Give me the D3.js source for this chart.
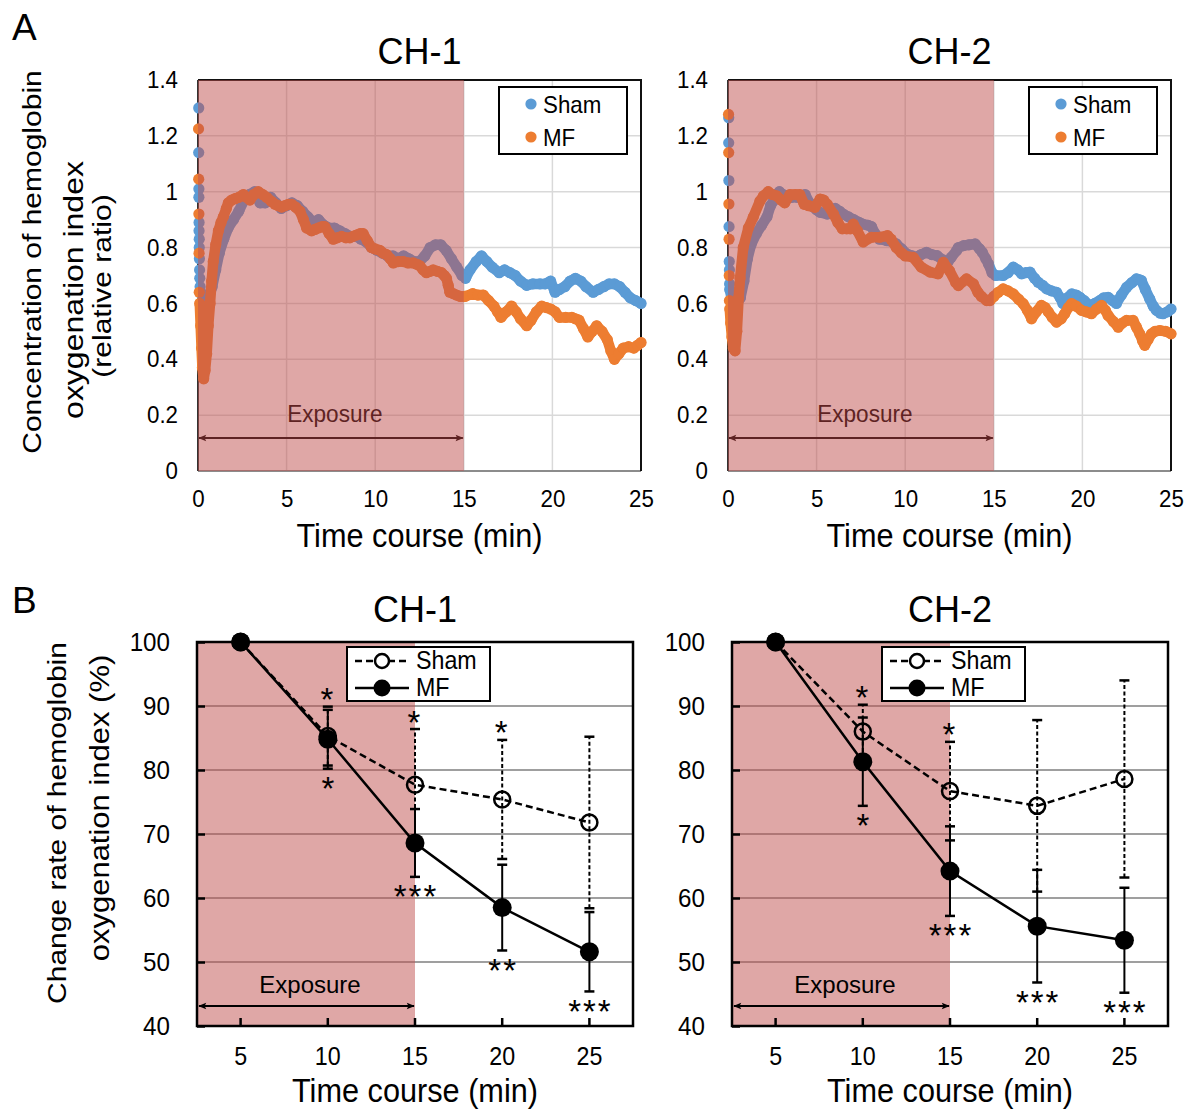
<!DOCTYPE html>
<html>
<head>
<meta charset="utf-8">
<script src="https://cdn.jsdelivr.net/npm/d3@7"></script>
<style>
  body { margin: 0; background: #fff; }
  svg { display: block; }
  text { font-family: "Liberation Sans", Arial, sans-serif; }
</style>
</head>
<body>
<svg id="fig" width="1202" height="1114"></svg>
<script>
// ---- panel A : time course, relative ratio ----
const aTimeTicks = [0, 5, 10, 15, 20, 25];
const aValueTicks = [0, 0.2, 0.4, 0.6, 0.8, 1, 1.2, 1.4];

// first samples right at t=0 (scattered dots)
const ch1ShamStart = [[0.04, 1.30], [0.04, 1.14], [0.05, 1.01], [0.05, 0.98], [0.06, 0.89], [0.06, 0.86], [0.07, 0.83], [0.07, 0.80], [0.08, 0.76], [0.09, 0.72], [0.1, 0.69], [0.12, 0.66]];
const ch1MfStart = [[0.03, 1.225], [0.04, 1.045], [0.05, 0.92], [0.06, 0.78], [0.07, 0.64]];
const ch2ShamStart = [[0.04, 1.265], [0.04, 1.175], [0.05, 1.04], [0.06, 0.875], [0.07, 0.75], [0.08, 0.72], [0.09, 0.67]];
const ch2MfStart = [[0.03, 1.277], [0.04, 1.14], [0.05, 0.956], [0.06, 0.83], [0.07, 0.70], [0.08, 0.61]];

// [minute, ratio]
const ch1ShamTrace = [[0.15, 0.64], [0.3, 0.61], [0.45, 0.60], [0.6, 0.62], [0.8, 0.66], [1.0, 0.72], [1.2, 0.78], [1.45, 0.83], [1.7, 0.87], [2.0, 0.90], [2.3, 0.93], [2.6, 0.97], [2.9, 0.99], [3.2, 1.0], [3.5, 0.96], [3.8, 0.96], [4.1, 0.98], [4.4, 0.96], [4.7, 0.94], [5.0, 0.95], [5.3, 0.96], [5.6, 0.95], [5.9, 0.93], [6.2, 0.91], [6.5, 0.89], [6.8, 0.90], [7.1, 0.88], [7.4, 0.87], [7.7, 0.87], [8.0, 0.86], [8.3, 0.85], [8.6, 0.84], [8.9, 0.84], [9.2, 0.83], [9.5, 0.82], [9.8, 0.80], [10.1, 0.79], [10.4, 0.78], [10.7, 0.77], [11.0, 0.77], [11.3, 0.76], [11.6, 0.77], [11.9, 0.76], [12.2, 0.75], [12.5, 0.75], [12.8, 0.77], [13.1, 0.80], [13.4, 0.81], [13.7, 0.81], [14.0, 0.79], [14.3, 0.76], [14.6, 0.73], [14.9, 0.70], [15.1, 0.69], [15.35, 0.72], [15.7, 0.75], [16.0, 0.77], [16.3, 0.75], [16.6, 0.73], [17.0, 0.71], [17.3, 0.72], [17.6, 0.71], [17.9, 0.70], [18.2, 0.68], [18.55, 0.665], [18.9, 0.67], [19.3, 0.67], [19.6, 0.67], [19.9, 0.68], [20.15, 0.64], [20.4, 0.65], [20.7, 0.66], [21.0, 0.68], [21.3, 0.69], [21.6, 0.68], [21.9, 0.66], [22.3, 0.64], [22.6, 0.65], [22.9, 0.66], [23.2, 0.67], [23.5, 0.67], [23.8, 0.66], [24.1, 0.64], [24.4, 0.62], [24.7, 0.61], [25.0, 0.60]];
const ch1MfTrace = [[0.1, 0.60], [0.15, 0.52], [0.2, 0.44], [0.25, 0.37], [0.32, 0.33], [0.4, 0.36], [0.49, 0.42], [0.58, 0.52], [0.68, 0.60], [0.77, 0.68], [0.86, 0.75], [1.0, 0.81], [1.15, 0.86], [1.3, 0.89], [1.43, 0.91], [1.6, 0.94], [1.71, 0.96], [1.9, 0.97], [2.09, 0.975], [2.3, 0.98], [2.56, 0.99], [2.75, 0.98], [2.93, 0.97], [3.15, 0.99], [3.4, 1.0], [3.65, 0.99], [3.87, 0.98], [4.15, 0.965], [4.35, 0.955], [4.53, 0.95], [4.72, 0.945], [4.91, 0.95], [5.1, 0.955], [5.28, 0.955], [5.5, 0.945], [5.75, 0.93], [5.95, 0.90], [6.13, 0.87], [6.41, 0.86], [6.6, 0.865], [6.79, 0.87], [7.0, 0.875], [7.16, 0.875], [7.4, 0.85], [7.63, 0.83], [7.85, 0.835], [8.1, 0.84], [8.35, 0.835], [8.57, 0.835], [8.75, 0.84], [8.95, 0.845], [9.15, 0.85], [9.32, 0.85], [9.55, 0.825], [9.79, 0.80], [10.0, 0.795], [10.26, 0.79], [10.45, 0.78], [10.64, 0.775], [10.85, 0.76], [11.02, 0.745], [11.3, 0.75], [11.58, 0.75], [11.85, 0.745], [12.14, 0.745], [12.35, 0.74], [12.52, 0.735], [12.7, 0.72], [12.89, 0.71], [13.1, 0.715], [13.27, 0.72], [13.5, 0.715], [13.74, 0.71], [13.9, 0.70], [14.02, 0.69], [14.12, 0.665], [14.21, 0.64], [14.4, 0.635], [14.59, 0.63], [14.8, 0.625], [15.06, 0.625], [15.5, 0.635], [15.8, 0.63], [16.1, 0.63], [16.4, 0.61], [16.7, 0.59], [16.9, 0.57], [17.1, 0.55], [17.4, 0.57], [17.7, 0.59], [17.95, 0.57], [18.2, 0.545], [18.55, 0.52], [18.8, 0.54], [19.1, 0.57], [19.4, 0.59], [19.65, 0.585], [19.9, 0.58], [20.15, 0.57], [20.4, 0.55], [20.75, 0.55], [21.1, 0.55], [21.3, 0.545], [21.5, 0.54], [21.75, 0.51], [22.0, 0.48], [22.25, 0.50], [22.5, 0.52], [22.8, 0.50], [23.1, 0.47], [23.3, 0.43], [23.5, 0.40], [23.75, 0.42], [24.0, 0.44], [24.3, 0.445], [24.6, 0.44], [24.8, 0.45], [25.0, 0.46]];
const ch2ShamTrace = [[0.1, 0.65], [0.2, 0.62], [0.35, 0.60], [0.5, 0.60], [0.7, 0.62], [0.9, 0.68], [1.1, 0.76], [1.3, 0.81], [1.6, 0.85], [1.9, 0.88], [2.2, 0.91], [2.4, 0.95], [2.6, 0.97], [2.75, 0.99], [2.9, 1.0], [3.1, 0.99], [3.3, 0.985], [3.6, 0.98], [3.9, 0.98], [4.1, 0.985], [4.35, 0.99], [4.6, 0.96], [4.7, 0.95], [5.0, 0.935], [5.2, 0.926], [5.6, 0.92], [5.8, 0.935], [6.05, 0.94], [6.3, 0.93], [6.5, 0.92], [6.8, 0.91], [7.1, 0.90], [7.4, 0.89], [7.6, 0.884], [7.9, 0.88], [8.1, 0.875], [8.3, 0.85], [8.55, 0.83], [8.95, 0.825], [9.3, 0.82], [9.5, 0.813], [9.8, 0.795], [10.1, 0.777], [10.4, 0.77], [10.65, 0.765], [10.9, 0.775], [11.2, 0.783], [11.5, 0.775], [11.8, 0.771], [12.15, 0.755], [12.4, 0.747], [12.6, 0.765], [12.9, 0.789], [13.0, 0.80], [13.3, 0.807], [13.6, 0.81], [13.95, 0.813], [14.2, 0.795], [14.35, 0.783], [14.55, 0.76], [14.7, 0.741], [14.9, 0.71], [15.1, 0.70], [15.53, 0.70], [15.8, 0.71], [16.1, 0.73], [16.35, 0.72], [16.57, 0.706], [16.8, 0.71], [17.04, 0.712], [17.3, 0.69], [17.5, 0.676], [17.75, 0.665], [17.98, 0.652], [18.25, 0.645], [18.54, 0.64], [18.75, 0.62], [18.9, 0.60], [19.15, 0.62], [19.4, 0.634], [19.65, 0.63], [19.85, 0.622], [20.1, 0.61], [20.4, 0.593], [20.7, 0.60], [20.98, 0.61], [21.2, 0.62], [21.45, 0.622], [21.7, 0.61], [21.92, 0.60], [22.2, 0.63], [22.5, 0.658], [22.8, 0.675], [23.05, 0.688], [23.2, 0.685], [23.33, 0.682], [23.55, 0.65], [23.8, 0.616], [24.0, 0.59], [24.18, 0.575], [24.4, 0.565], [24.55, 0.563], [24.8, 0.57], [25.0, 0.58]];
const ch2MfTrace = [[0.1, 0.58], [0.15, 0.53], [0.22, 0.48], [0.3, 0.44], [0.4, 0.43], [0.5, 0.50], [0.6, 0.62], [0.68, 0.69], [0.86, 0.80], [1.15, 0.87], [1.43, 0.91], [1.8, 0.966], [2.0, 0.985], [2.27, 1.0], [2.5, 0.99], [2.75, 0.985], [3.0, 0.97], [3.2, 0.96], [3.5, 0.99], [3.8, 0.99], [4.05, 0.99], [4.3, 0.955], [4.55, 0.95], [4.9, 0.944], [5.2, 0.974], [5.4, 0.97], [5.6, 0.955], [5.95, 0.92], [6.2, 0.89], [6.45, 0.867], [6.7, 0.867], [6.9, 0.867], [7.07, 0.884], [7.3, 0.86], [7.63, 0.82], [8.1, 0.837], [8.57, 0.837], [9.0, 0.843], [9.2, 0.83], [9.5, 0.80], [9.8, 0.78], [10.0, 0.77], [10.45, 0.765], [10.9, 0.73], [11.4, 0.712], [11.85, 0.706], [12.15, 0.747], [12.5, 0.717], [12.85, 0.675], [13.0, 0.664], [13.46, 0.688], [13.85, 0.67], [14.1, 0.64], [14.3, 0.625], [14.6, 0.61], [14.78, 0.61], [15.0, 0.625], [15.25, 0.64], [15.53, 0.652], [15.8, 0.645], [16.1, 0.634], [16.4, 0.615], [16.66, 0.599], [16.9, 0.575], [17.13, 0.545], [17.4, 0.57], [17.69, 0.593], [17.9, 0.585], [18.07, 0.57], [18.3, 0.55], [18.54, 0.533], [18.8, 0.545], [19.0, 0.563], [19.2, 0.585], [19.39, 0.599], [19.65, 0.59], [19.95, 0.575], [20.2, 0.57], [20.51, 0.563], [20.8, 0.58], [21.08, 0.593], [21.3, 0.575], [21.45, 0.557], [21.75, 0.535], [22.02, 0.515], [22.25, 0.53], [22.49, 0.539], [22.86, 0.539], [23.05, 0.515], [23.24, 0.491], [23.4, 0.465], [23.52, 0.45], [23.7, 0.47], [23.9, 0.491], [24.1, 0.50], [24.37, 0.503], [24.7, 0.50], [25.0, 0.491]];

// ---- panel B : change rate (%), mean and error ----
const categories = [5, 10, 15, 20, 25];
const bValueTicks = [40, 50, 60, 70, 80, 90, 100];
const ch1ShamMean = [100, 85.3, 77.7, 75.4, 71.8];
const ch1ShamErr = [0, 4.6, 8.7, 9.3, 13.4];
const ch1MfMean = [100, 84.8, 68.6, 58.5, 51.6];
const ch1MfErr = [0, 4.6, 5.3, 6.7, 6.2];
const ch1ShamStars = ["", "*", "*", "*", ""];
const ch1MfStars = ["", "*", "***", "**", "***"];
const ch2ShamMean = [100, 86.0, 76.7, 74.4, 78.6];
const ch2ShamErr = [0, 4.2, 7.7, 13.4, 15.4];
const ch2MfMean = [100, 81.3, 64.2, 55.6, 53.4];
const ch2MfErr = [0, 6.9, 7.0, 8.8, 8.2];
const ch2ShamStars = ["", "*", "*", "", ""];
const ch2MfStars = ["", "*", "***", "***", "***"];

const SHAM_BLUE = "#5b9bd5";
const MF_ORANGE = "#ed7d31";
const EXPO_RED = "#c0504d";
const EXPO_END = 15;
const SX = 0.93; // the lettering in the original is a little squeezed sideways

const svg = d3.select("#fig");

// arrow heads
const defs = svg.append("defs");
[["arrA", "#5e2323"], ["arrB", "#000"]].forEach(([id, col]) => {
  defs.append("marker")
    .attr("id", id)
    .attr("viewBox", "0 0 10 10")
    .attr("refX", 9).attr("refY", 5)
    .attr("markerWidth", 9).attr("markerHeight", 8)
    .attr("markerUnits", "userSpaceOnUse")
    .attr("orient", "auto-start-reverse")
    .append("path")
    .attr("d", "M0,1 L10,5 L0,9 L2,5 z")
    .attr("fill", col);
});

function sqText(parent, x, y, str, size, anchor, fill, sx) {
  return parent.append("text")
    .attr("transform", "translate(" + x + "," + y + ") scale(" + (sx || SX) + ",1)")
    .attr("text-anchor", anchor || "middle")
    .attr("font-size", size)
    .attr("fill", fill || "#000")
    .text(str);
}

function yLabel(lines) {
  // lines: [text, baseline x, centre y, font size]
  lines.forEach(([str, bx, cy, size]) => {
    svg.append("text")
      .attr("transform", "translate(" + bx + "," + cy + ") scale(0.88,1) rotate(-90)")
      .attr("text-anchor", "middle")
      .attr("font-size", size)
      .text(str);
  });
}

function drawPanelA(cfg) {
  const top = 80, bottom = 471;
  const x = d3.scaleLinear().domain([0, 25]).range([cfg.left, cfg.right]);
  const y = d3.scaleLinear().domain([0, 1.4]).range([bottom, top]);
  const g = svg.append("g");

  // grid
  g.selectAll(".hgrid").data(aValueTicks.slice(1, -1)).join("line")
    .attr("x1", cfg.left).attr("x2", cfg.right)
    .attr("y1", d => y(d)).attr("y2", d => y(d))
    .attr("stroke", "#d9d9d9").attr("stroke-width", 1.5);
  g.selectAll(".vgrid").data(aTimeTicks.slice(1, -1)).join("line")
    .attr("x1", d => x(d)).attr("x2", d => x(d))
    .attr("y1", top).attr("y2", bottom)
    .attr("stroke", "#d9d9d9").attr("stroke-width", 1.5);

  // frame
  g.append("line").attr("x1", cfg.left).attr("x2", cfg.right).attr("y1", bottom).attr("y2", bottom)
    .attr("stroke", "#8c8c8c").attr("stroke-width", 2);
  g.append("line").attr("x1", cfg.left).attr("x2", cfg.left).attr("y1", top).attr("y2", bottom)
    .attr("stroke", "#333").attr("stroke-width", 2);
  g.append("path")
    .attr("d", "M" + cfg.left + "," + top + "H" + cfg.right + "V" + bottom)
    .attr("fill", "none").attr("stroke", "#111").attr("stroke-width", 2);

  // series: thick trace of overlapping dots
  const line = d3.line().x(d => x(d[0])).y(d => y(d[1]));
  [[cfg.shamStart, cfg.sham, SHAM_BLUE], [cfg.mfStart, cfg.mf, MF_ORANGE]].forEach(([start, trace, col]) => {
    const s = g.append("g");
    s.append("path").datum(trace)
      .attr("d", line)
      .attr("fill", "none").attr("stroke", col)
      .attr("stroke-width", 10.5).attr("stroke-linejoin", "round").attr("stroke-linecap", "round");
    s.selectAll("circle.tr").data(trace).join("circle")
      .attr("cx", d => x(d[0])).attr("cy", d => y(d[1])).attr("r", 5.6).attr("fill", col);
    s.selectAll("circle.st").data(start).join("circle")
      .attr("cx", d => x(d[0])).attr("cy", d => y(d[1])).attr("r", 5.6).attr("fill", col);
  });

  // exposure period
  g.append("rect")
    .attr("x", x(0)).attr("y", top)
    .attr("width", x(EXPO_END) - x(0)).attr("height", bottom - top)
    .attr("fill", EXPO_RED).attr("opacity", 0.5);
  g.append("line")
    .attr("x1", x(0) + 1).attr("x2", x(EXPO_END) - 1)
    .attr("y1", bottom - 33).attr("y2", bottom - 33)
    .attr("stroke", "#5e2323").attr("stroke-width", 2)
    .attr("marker-start", "url(#arrA)").attr("marker-end", "url(#arrA)");
  sqText(g, (x(0) + x(EXPO_END)) / 2 + 4, bottom - 49, "Exposure", 23, "middle", "#5e2323", 0.98);

  // axes labels
  const yAxis = g.append("g").attr("transform", "translate(" + cfg.left + ",0)")
    .call(d3.axisLeft(y).tickValues(aValueTicks).tickSize(0).tickFormat(d3.format("~g")));
  yAxis.select(".domain").remove();
  yAxis.selectAll("text")
    .attr("font-size", 24).attr("font-family", null)
    .attr("x", -20 / SX).attr("transform", "scale(" + SX + ",1)");
  const xAxis = g.append("g").attr("transform", "translate(0," + bottom + ")")
    .call(d3.axisBottom(x).tickValues(aTimeTicks).tickSize(0).tickPadding(19));
  xAxis.select(".domain").remove();
  xAxis.selectAll("text")
    .attr("font-size", 24).attr("font-family", null)
    .attr("transform", "scale(" + SX + ",1)");

  // legend
  const lw = 128, lh = 67;
  const lx = cfg.right - 14 - lw, ly = top + 7;
  const lg = g.append("g").attr("transform", "translate(" + lx + "," + ly + ")");
  lg.append("rect").attr("width", lw).attr("height", lh)
    .attr("fill", "#fff").attr("stroke", "#000").attr("stroke-width", 2);
  [["Sham", SHAM_BLUE, 17], ["MF", MF_ORANGE, 50]].forEach(([name, col, cy]) => {
    lg.append("circle").attr("cx", 32).attr("cy", cy).attr("r", 5.6).attr("fill", col);
    sqText(lg, 44, cy + 8.5, name, 24, "start");
  });

  // titles
  sqText(svg, (cfg.left + cfg.right) / 2, 64, cfg.title, 36, "middle", "#000", 1);
  sqText(svg, (cfg.left + cfg.right) / 2, 547, "Time course (min)", 33);
}

function drawPanelB(cfg) {
  const top = 642, bottom = 1026;
  const x = d3.scaleBand().domain(categories).range([cfg.left, cfg.right]);
  const cx = d => x(d) + x.bandwidth() / 2;
  const y = d3.scaleLinear().domain([40, 100]).range([bottom, top]);
  const g = svg.append("g");

  g.selectAll(".hgrid").data(bValueTicks.slice(1, -1)).join("line")
    .attr("x1", cfg.left).attr("x2", cfg.right)
    .attr("y1", d => y(d)).attr("y2", d => y(d))
    .attr("stroke", "#404040").attr("stroke-width", 1.2);

  g.append("rect")
    .attr("x", cfg.left).attr("y", top)
    .attr("width", cx(EXPO_END) - cfg.left).attr("height", bottom - top)
    .attr("fill", EXPO_RED).attr("opacity", 0.5);

  const rows = categories.map((c, i) => ({
    c: c,
    sm: cfg.shamMean[i], se: cfg.shamErr[i],
    mm: cfg.mfMean[i], me: cfg.mfErr[i],
    ss: cfg.shamStars[i], ms: cfg.mfStars[i]
  }));

  // error bars
  function errBars(key, errKey, dash) {
    const eb = g.append("g").attr("stroke", "#000").attr("stroke-width", 2);
    const withErr = rows.filter(r => r[errKey] > 0);
    eb.selectAll("line.v").data(withErr).join("line")
      .attr("x1", r => cx(r.c)).attr("x2", r => cx(r.c))
      .attr("y1", r => y(r[key] - r[errKey])).attr("y2", r => y(r[key] + r[errKey]))
      .attr("stroke-dasharray", dash);
    [-1, 1].forEach(sgn => {
      eb.selectAll("line.cap" + (sgn > 0 ? "u" : "d")).data(withErr).join("line")
        .attr("x1", r => cx(r.c) - 5).attr("x2", r => cx(r.c) + 5)
        .attr("y1", r => y(r[key] + sgn * r[errKey])).attr("y2", r => y(r[key] + sgn * r[errKey]))
        .attr("stroke-width", 2.5);
    });
  }
  errBars("sm", "se", "4,2.5");
  errBars("mm", "me", null);

  const shamLine = d3.line().x(r => cx(r.c)).y(r => y(r.sm));
  const mfLine = d3.line().x(r => cx(r.c)).y(r => y(r.mm));
  g.append("path").datum(rows).attr("d", shamLine)
    .attr("fill", "none").attr("stroke", "#000").attr("stroke-width", 2.5).attr("stroke-dasharray", "7,4");
  g.selectAll("circle.sham").data(rows).join("circle")
    .attr("cx", r => cx(r.c)).attr("cy", r => y(r.sm)).attr("r", 8)
    .attr("fill", "none").attr("stroke", "#000").attr("stroke-width", 2.5);
  g.append("path").datum(rows).attr("d", mfLine)
    .attr("fill", "none").attr("stroke", "#000").attr("stroke-width", 2.5);
  g.selectAll("circle.mf").data(rows).join("circle")
    .attr("cx", r => cx(r.c)).attr("cy", r => y(r.mm)).attr("r", 9.5).attr("fill", "#000");

  // significance marks
  const starSize = 33;
  g.selectAll("text.up").data(rows.filter(r => r.ss)).join("text")
    .attr("x", r => cx(r.c)).attr("y", r => Math.min(y(r.sm + r.se), y(r.mm + r.me)) - 14 + 0.56 * starSize)
    .attr("text-anchor", "middle").attr("font-size", starSize).attr("letter-spacing", 2)
    .text(r => r.ss);
  g.selectAll("text.down").data(rows.filter(r => r.ms)).join("text")
    .attr("x", r => cx(r.c) + 1).attr("y", r => Math.max(y(r.sm - r.se), y(r.mm - r.me)) + 13 + 0.56 * starSize)
    .attr("text-anchor", "middle").attr("font-size", starSize).attr("letter-spacing", 2)
    .text(r => r.ms);

  // frame + axes
  g.append("rect").attr("x", cfg.left).attr("y", top)
    .attr("width", cfg.right - cfg.left).attr("height", bottom - top)
    .attr("fill", "none").attr("stroke", "#000").attr("stroke-width", 2.5);
  const yAxis = g.append("g").attr("transform", "translate(" + cfg.left + ",0)")
    .call(d3.axisLeft(y).tickValues(bValueTicks).tickSizeInner(-8).tickSizeOuter(0));
  yAxis.select(".domain").remove();
  yAxis.selectAll("line").attr("stroke-width", 2.5);
  yAxis.selectAll("text")
    .attr("font-size", 26).attr("font-family", null)
    .attr("x", -27 / SX).attr("transform", "scale(" + SX + ",1)");
  const xAxis = g.append("g").attr("transform", "translate(0," + bottom + ")")
    .call(d3.axisBottom(x).tickSizeInner(-8).tickSizeOuter(0).tickPadding(21));
  xAxis.select(".domain").remove();
  xAxis.selectAll("line").attr("stroke-width", 2.5);
  xAxis.selectAll("text")
    .attr("font-size", 25).attr("font-family", null)
    .attr("transform", "scale(" + SX + ",1)");

  // exposure arrow
  g.append("line")
    .attr("x1", cfg.left + 2).attr("x2", cx(EXPO_END) - 1)
    .attr("y1", bottom - 20).attr("y2", bottom - 20)
    .attr("stroke", "#000").attr("stroke-width", 2)
    .attr("marker-start", "url(#arrB)").attr("marker-end", "url(#arrB)");
  sqText(g, (cfg.left + cx(EXPO_END)) / 2 + 4, bottom - 33, "Exposure", 24, "middle", "#000", 1);

  // legend
  const lw = 143, lh = 54;
  const lg = g.append("g").attr("transform", "translate(" + (cfg.left + 150) + "," + (top + 5) + ")");
  lg.append("rect").attr("width", lw).attr("height", lh)
    .attr("fill", "#fff").attr("stroke", "#000").attr("stroke-width", 2);
  lg.append("line").attr("x1", 8).attr("x2", 62).attr("y1", 14).attr("y2", 14)
    .attr("stroke", "#000").attr("stroke-width", 2.5).attr("stroke-dasharray", "7,4");
  lg.append("circle").attr("cx", 35).attr("cy", 14).attr("r", 7)
    .attr("fill", "#fff").attr("stroke", "#000").attr("stroke-width", 2.5);
  lg.append("line").attr("x1", 8).attr("x2", 62).attr("y1", 41).attr("y2", 41)
    .attr("stroke", "#000").attr("stroke-width", 2.5);
  lg.append("circle").attr("cx", 35).attr("cy", 41).attr("r", 8.5).attr("fill", "#000");
  sqText(lg, 69, 22, "Sham", 25, "start");
  sqText(lg, 69, 49, "MF", 25, "start");

  sqText(svg, (cfg.left + cfg.right) / 2, 622, cfg.title, 36, "middle", "#000", 1);
  sqText(svg, (cfg.left + cfg.right) / 2, 1102, "Time course (min)", 33);
}

drawPanelA({ title: "CH-1", left: 198, right: 641, shamStart: ch1ShamStart, sham: ch1ShamTrace, mfStart: ch1MfStart, mf: ch1MfTrace });
drawPanelA({ title: "CH-2", left: 728, right: 1171, shamStart: ch2ShamStart, sham: ch2ShamTrace, mfStart: ch2MfStart, mf: ch2MfTrace });

drawPanelB({ title: "CH-1", left: 197, right: 633, shamMean: ch1ShamMean, shamErr: ch1ShamErr, mfMean: ch1MfMean, mfErr: ch1MfErr, shamStars: ch1ShamStars, mfStars: ch1MfStars });
drawPanelB({ title: "CH-2", left: 732, right: 1168, shamMean: ch2ShamMean, shamErr: ch2ShamErr, mfMean: ch2MfMean, mfErr: ch2MfErr, shamStars: ch2ShamStars, mfStars: ch2MfStars });

// panel letters and y titles
sqText(svg, 12, 40, "A", 37, "start", "#000", 1);
sqText(svg, 12, 613, "B", 37, "start", "#000", 1);
yLabel([["Concentration of hemoglobin", 41, 262, 30], ["oxygenation index", 83, 290, 32], ["(relative ratio)", 111, 286, 30]]);
yLabel([["Change rate of hemoglobin", 66, 823, 30], ["oxygenation index (%)", 109, 808, 31]]);
</script>
</body>
</html>
